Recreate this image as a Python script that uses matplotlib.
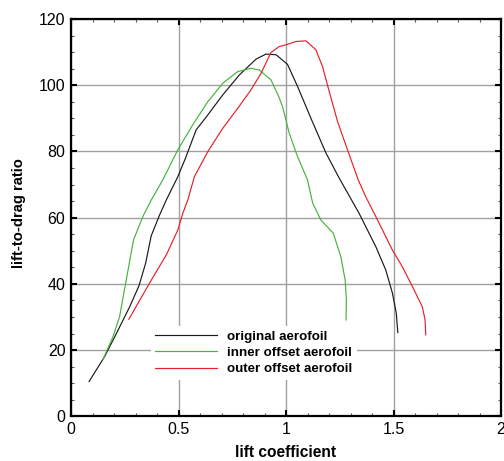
import matplotlib
matplotlib.use("Agg")
import matplotlib.pyplot as plt
from matplotlib.ticker import MultipleLocator, FuncFormatter

plt.rcParams['font.family'] = ['Liberation Sans', 'DejaVu Sans']

# data
orig_cl = [0.084, 0.156, 0.208, 0.273, 0.316, 0.347, 0.373, 0.412, 0.443, 0.497, 0.532,
           0.582, 0.636, 0.706, 0.783, 0.861, 0.907, 0.954, 1.007, 1.054, 1.116, 1.186,
           1.247, 1.340, 1.418, 1.464, 1.495, 1.513, 1.520]
orig_ld = [10.5, 18.0, 24.6, 33.1, 39.4, 46.2, 54.5, 60.8, 65.3, 72.4, 77.9,
           86.5, 91.0, 97.1, 103.1, 107.9, 109.4, 109.2, 106.3, 99.6, 90.0, 79.5,
           72.0, 61.3, 51.2, 44.2, 37.2, 31.1, 25.3]

inner_cl = [0.149, 0.195, 0.226, 0.257, 0.291, 0.334, 0.373, 0.427, 0.497, 0.566, 0.636,
            0.706, 0.775, 0.837, 0.876, 0.930, 0.966, 0.984, 1.015, 1.054, 1.100, 1.124,
            1.162, 1.220, 1.255, 1.275, 1.281, 1.279]
inner_ld = [17.2, 24.0, 30.1, 41.2, 53.3, 60.3, 65.3, 71.4, 80.5, 88.0, 95.0,
            100.6, 104.1, 105.1, 104.6, 101.6, 96.6, 93.5, 85.5, 78.4, 71.4, 64.4,
            59.3, 55.3, 48.2, 41.2, 35.1, 29.1]

outer_cl = [0.269, 0.365, 0.443, 0.497, 0.520, 0.543, 0.574, 0.636, 0.706, 0.775, 0.837,
            0.884, 0.930, 0.969, 1.000, 1.046, 1.093, 1.139, 1.170, 1.201, 1.240, 1.286,
            1.336, 1.371, 1.418, 1.495, 1.541, 1.588, 1.634, 1.647, 1.650]
outer_ld = [29.3, 40.2, 48.7, 56.3, 61.3, 65.3, 72.4, 79.9, 87.0, 93.0, 98.6,
            103.6, 109.9, 111.7, 112.2, 113.2, 113.4, 110.7, 105.6, 98.1, 89.0, 80.5,
            71.4, 66.3, 60.3, 50.2, 45.2, 39.2, 33.1, 29.1, 24.6]

labels = ['original aerofoil', 'inner offset aerofoil', 'outer offset aerofoil']
colors = ['#1a1a1a', '#45b43c', '#e8202a']

fig = plt.figure(figsize=(5.04, 4.61), dpi=100)
ax = fig.add_axes([71 / 504, (461 - 416.3) / 461, 430 / 504, 397.3 / 461])

ax.set_xlim(0, 2)
ax.set_ylim(0, 120)
ax.xaxis.set_major_locator(MultipleLocator(0.5))
ax.xaxis.set_minor_locator(MultipleLocator(0.1))
ax.yaxis.set_major_locator(MultipleLocator(20))
ax.yaxis.set_minor_locator(MultipleLocator(5))
ax.xaxis.set_major_formatter(FuncFormatter(lambda v, p: '%g' % v))
ax.yaxis.set_major_formatter(FuncFormatter(lambda v, p: '%g' % v))

ax.grid(True, which='major', color='#a0a0a0', linewidth=1.0)
ax.set_axisbelow(True)

for cl, ld, lab, c in zip([orig_cl, inner_cl, outer_cl], [orig_ld, inner_ld, outer_ld], labels, colors):
    ax.plot(cl, ld, color=c, linewidth=0.85, label=lab)

ax.tick_params(which='both', direction='in', top=True, right=True, labelsize=11.5, pad=4)
ax.tick_params(which='major', length=4.5, width=1.5)
ax.tick_params(which='minor', length=2.5, width=0.8, color='#555555')
for s in ax.spines.values():
    s.set_linewidth(1.6)

ax.set_xlabel('lift coefficient', fontsize=11.2, fontweight='bold', labelpad=6)
ax.set_ylabel('lift-to-drag ratio', fontsize=10.6, fontweight='bold')
ax.yaxis.set_label_coords(-0.105, 0.512)

leg = ax.legend(loc='upper left', bbox_to_anchor=(0.17, 0.245), frameon=True,
                prop={'size': 9.6, 'weight': 'bold'}, handlelength=4.6,
                handletextpad=0.75, labelspacing=0.3, borderpad=0.35,
                fancybox=False, framealpha=1.0)
leg.get_frame().set_edgecolor('none')
leg.get_frame().set_facecolor('white')

fig.savefig('out.png', dpi=100)
